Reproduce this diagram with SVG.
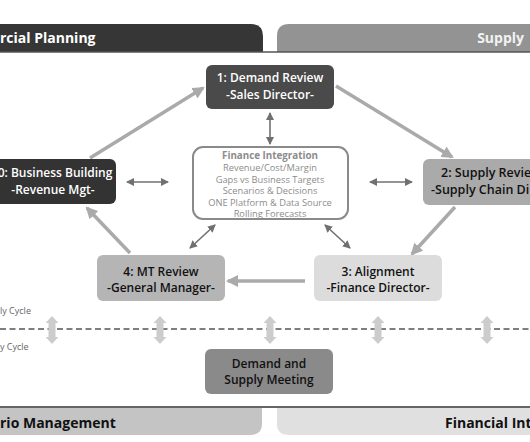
<svg xmlns="http://www.w3.org/2000/svg" width="530" height="442" viewBox="0 0 530 442">
<defs>
<style>
text{font-family:"Open Sans","Noto Sans","DejaVu Sans",sans-serif;font-weight:600}
.nt{font-size:12px;text-anchor:middle}
.ns{font-size:12.5px;text-anchor:start}
.bar{font-size:14px;font-weight:700}
.fi{font-size:9.3px;fill:#8c8c8c;text-anchor:middle;font-weight:400}
.big{stroke:#aaaaaa;stroke-width:3.5;fill:none;marker-end:url(#ah)}
.dbl{stroke:#707070;stroke-width:1.6;fill:none;marker-start:url(#sh);marker-end:url(#sh)}
.cyc{font-size:9px;fill:#666;font-weight:400}
</style>
<marker id="ah" viewBox="0 0 12 12" refX="10" refY="6" markerWidth="12" markerHeight="12" markerUnits="userSpaceOnUse" orient="auto"><path d="M0,0 L12,6 L0,12 Z" fill="#aaaaaa"/></marker>
<marker id="sh" viewBox="0 0 8 8" refX="7" refY="4" markerWidth="8" markerHeight="8" markerUnits="userSpaceOnUse" orient="auto-start-reverse"><path d="M0,0 L8,4 L0,8 Z" fill="#707070"/></marker>
<path id="va" d="M0,-14 L6.5,-7 L3.5,-7 L3.5,7 L6.5,7 L0,14 L-6.5,7 L-3.5,7 L-3.5,-7 L-6.5,-7 Z" fill="#cccccc"/>
</defs>
<rect width="530" height="442" fill="#ffffff"/>
<!-- top bars -->
<g id="bar-top-left">
<path d="M0,24 H251 Q263,24 263,36 V52 H0 Z" fill="#363636"/>
<text class="bar" x="0" y="43" fill="#ffffff">rcial Planning</text>
</g>
<g id="bar-top-right">
<path d="M289,24 H530 V52 H277 V36 Q277,24 289,24 Z" fill="#939393"/>
<text class="bar" x="524" y="43" fill="#f2f2f2" text-anchor="end">Supply</text>
</g>
<line x1="0" y1="52" x2="530" y2="52" stroke="#555" stroke-width="1.5"/>
<!-- bottom bars -->
<line x1="0" y1="407" x2="530" y2="407" stroke="#666" stroke-width="2"/>
<g id="bar-bottom-left">
<path d="M0,408 H262 V424 Q262,435 250,435 H0 Z" fill="#c4c4c4"/>
<text class="bar" x="0" y="428" fill="#111">rio Management</text>
</g>
<g id="bar-bottom-right">
<path d="M277,408 H530 V435 H289 Q277,435 277,424 Z" fill="#e0e0e0"/>
<text class="bar" x="445" y="428" fill="#111">Financial Int</text>
</g>
<!-- connectors -->
<g id="connectors">
<line class="big" x1="90" y1="158" x2="203" y2="88"/>
<line class="big" x1="336" y1="86" x2="452" y2="157"/>
<line class="big" x1="455" y1="207" x2="412" y2="254"/>
<line class="big" x1="305" y1="281" x2="228" y2="281"/>
<line class="big" x1="130" y1="253" x2="87" y2="208"/>
<line class="dbl" x1="270" y1="113" x2="270" y2="144"/>
<line class="dbl" x1="127" y1="182" x2="168" y2="182"/>
<line class="dbl" x1="370" y1="182" x2="412" y2="182"/>
<line class="dbl" x1="215" y1="225" x2="190" y2="248"/>
<line class="dbl" x1="325" y1="225" x2="350" y2="248"/>
<line x1="0" y1="329" x2="530" y2="329" stroke="#555" stroke-width="1.5" stroke-dasharray="6,3.5"/>
<use href="#va" x="52" y="330"/>
<use href="#va" x="160" y="330"/>
<use href="#va" x="270" y="330"/>
<use href="#va" x="378" y="330"/>
<use href="#va" x="487" y="330"/>
</g>
<text class="cyc" x="0" y="314">ly Cycle</text>
<text class="cyc" x="0" y="350">y Cycle</text>
<!-- nodes -->
<g id="n1">
<rect x="206" y="65" width="128" height="44" rx="6" fill="#4a4a4a"/>
<text class="nt" x="270" y="82" fill="#ffffff">1: Demand Review</text>
<text class="nt" x="270" y="99" fill="#ffffff">-Sales Director-</text>
</g>
<g id="n0">
<rect x="-12" y="159" width="128" height="45" rx="6" fill="#333333"/>
<text class="nt" x="55" y="177" fill="#ffffff">0: Business Building</text>
<text class="nt" x="53" y="194" fill="#ffffff">-Revenue Mgt-</text>
</g>
<g id="n2">
<rect x="423" y="159" width="120" height="46" rx="6" fill="#aaaaaa"/>
<text class="ns" x="441" y="177" fill="#111">2: Supply Review</text>
<text class="ns" x="431" y="194" fill="#111">-Supply Chain Di</text>
</g>
<g id="n4">
<rect x="97" y="255" width="128" height="46" rx="6" fill="#b5b5b5"/>
<text class="nt" x="161" y="276" fill="#111">4: MT Review</text>
<text class="nt" x="161" y="292" fill="#111">-General Manager-</text>
</g>
<g id="n3">
<rect x="314" y="255" width="128" height="46" rx="6" fill="#dcdcdc"/>
<text class="nt" x="378" y="276" fill="#111">3: Alignment</text>
<text class="nt" x="378" y="292" fill="#111">-Finance Director-</text>
</g>
<g id="nfi">
<rect x="193" y="147" width="155" height="72" rx="10" fill="#ffffff" stroke="#8a8a8a" stroke-width="2"/>
<text class="fi" x="270" y="159" style="font-weight:700;font-size:9.8px">Finance Integration</text>
<text class="fi" x="270" y="171">Revenue/Cost/Margin</text>
<text class="fi" x="270" y="182.5">Gaps vs Business Targets</text>
<text class="fi" x="270" y="194">Scenarios &amp; Decisions</text>
<text class="fi" x="270" y="205.5">ONE Platform &amp; Data Source</text>
<text class="fi" x="270" y="217">Rolling Forecasts</text>
</g>
<g id="nmeet">
<rect x="205" y="349" width="128" height="45" rx="6" fill="#8a8a8a"/>
<text class="nt" x="269" y="368" fill="#111">Demand and</text>
<text class="nt" x="269" y="384" fill="#111">Supply Meeting</text>
</g>
</svg>
